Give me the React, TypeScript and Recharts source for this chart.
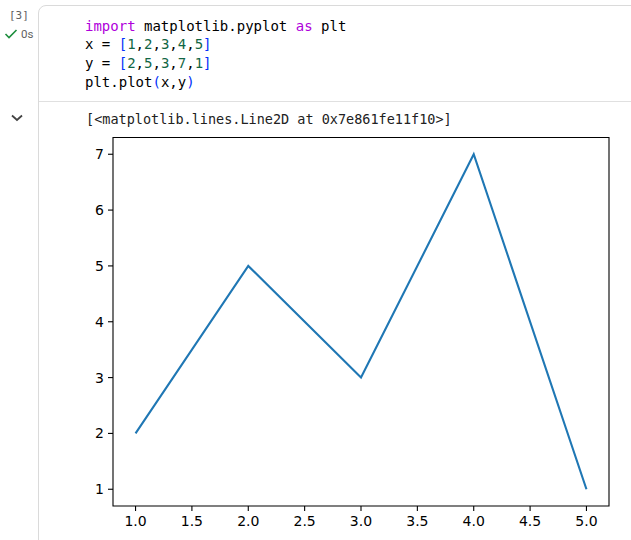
import React from 'react'
import { LineChart, Line, XAxis, YAxis, ReferenceArea } from 'recharts'

// values typed in the notebook cell
const xValues = [1, 2, 3, 4, 5]
const yValues = [2, 5, 3, 7, 1]
const xTicks = [1, 1.5, 2, 2.5, 3, 3.5, 4, 4.5, 5]
const yTicks = [1, 2, 3, 4, 5, 6, 7]

const data = xValues.map((x, i) => ({ x, y: yValues[i] }))

const MONO = '"DejaVu Sans Mono", "Liberation Mono", monospace'
const PURPLE = '#af00db'
const GREEN = '#116644'
const BLUE = '#0431fa'

type Tok = { t: string; c?: string }

const codeLines: Tok[][] = [
  [{ t: 'import', c: PURPLE }, { t: ' matplotlib.pyplot ' }, { t: 'as', c: PURPLE }, { t: ' plt' }],
  [{ t: 'x = ' }, { t: '[', c: BLUE }, { t: '1', c: GREEN }, { t: ',' }, { t: '2', c: GREEN }, { t: ',' }, { t: '3', c: GREEN }, { t: ',' }, { t: '4', c: GREEN }, { t: ',' }, { t: '5', c: GREEN }, { t: ']', c: BLUE }],
  [{ t: 'y = ' }, { t: '[', c: BLUE }, { t: '2', c: GREEN }, { t: ',' }, { t: '5', c: GREEN }, { t: ',' }, { t: '3', c: GREEN }, { t: ',' }, { t: '7', c: GREEN }, { t: ',' }, { t: '1', c: GREEN }, { t: ']', c: BLUE }],
  [{ t: 'plt.plot' }, { t: '(', c: BLUE }, { t: 'x,y' }, { t: ')', c: BLUE }],
]

const tickStyle = { fontFamily: '"DejaVu Sans", sans-serif', fontSize: 14, fill: '#000' }

export default function App() {
  return (
    <div style={{ position: 'absolute', left: 0, top: 0, width: 631, height: 540, background: '#fff', overflow: 'hidden' }}>
      {/* gutter */}
      <div style={{ position: 'absolute', left: 9, top: 8, fontFamily: MONO, fontSize: 11, color: '#616161', lineHeight: '16px' }}>[3]</div>
      <svg style={{ position: 'absolute', left: 4, top: 28 }} width={14} height={12}>
        <path d="M1.5 6 L5 9.5 L12.5 2" fill="none" stroke="#1e8e3e" strokeWidth={1.6} />
      </svg>
      <div style={{ position: 'absolute', left: 21, top: 26, fontFamily: 'Roboto, sans-serif', fontSize: 11.5, color: '#616161', lineHeight: '16px' }}>0s</div>
      <svg style={{ position: 'absolute', left: 10, top: 113 }} width={14} height={10}>
        <path d="M2 2.5 L7 7 L12 2.5" fill="none" stroke="#444" strokeWidth={1.8} />
      </svg>

      {/* cell border */}
      <div style={{ position: 'absolute', left: 38, top: 5, width: 620, height: 560, border: '1px solid #dadada', borderRadius: '8px 0 0 0', boxSizing: 'border-box' }} />
      <div style={{ position: 'absolute', left: 39, top: 101, width: 592, height: 1, background: '#e0e0e0' }} />

      {/* code */}
      {codeLines.map((line, i) => (
        <div key={i} style={{ position: 'absolute', left: 85, top: 16.5 + i * 18.8, fontFamily: MONO, fontSize: 14, lineHeight: '19px', color: '#000', whiteSpace: 'pre' }}>
          {line.map((tok, j) => (
            <span key={j} style={{ color: tok.c ?? '#000' }}>{tok.t}</span>
          ))}
        </div>
      ))}

      {/* output repr */}
      <div style={{ position: 'absolute', left: 86, top: 110, fontFamily: MONO, fontSize: 13.5, lineHeight: '19px', color: '#212121', whiteSpace: 'pre' }}>
        {'[<matplotlib.lines.Line2D at 0x7e861fe11f10>]'}
      </div>

      {/* figure */}
      <div style={{ position: 'absolute', left: 0, top: 0 }}>
        <LineChart width={631} height={540} data={data} margin={{ top: 137.5, right: 22, bottom: 4, left: 73 }}>
          <XAxis
            dataKey="x"
            type="number"
            domain={[0.8, 5.2]}
            ticks={xTicks}
            tickFormatter={(v: number) => v.toFixed(1)}
            axisLine={false}
            tickLine={{ stroke: '#000', strokeWidth: 1.1 }}
            tickSize={5}
            tickMargin={5}
            height={30}
            tick={tickStyle}
            allowDataOverflow
          />
          <YAxis
            type="number"
            domain={[0.7, 7.3]}
            ticks={yTicks}
            axisLine={false}
            tickLine={{ stroke: '#000', strokeWidth: 1.1 }}
            tickSize={5}
            tickMargin={4}
            width={40}
            tick={tickStyle}
            allowDataOverflow
          />
          <Line
            type="linear"
            dataKey="y"
            stroke="#1f77b4"
            strokeWidth={2.1}
            dot={false}
            isAnimationActive={false}
          />
          <ReferenceArea x1={0.8} x2={5.2} y1={0.7} y2={7.3} fill="none" stroke="#000" strokeWidth={1.1} fillOpacity={0} ifOverflow="visible" />
        </LineChart>
      </div>
    </div>
  )
}
